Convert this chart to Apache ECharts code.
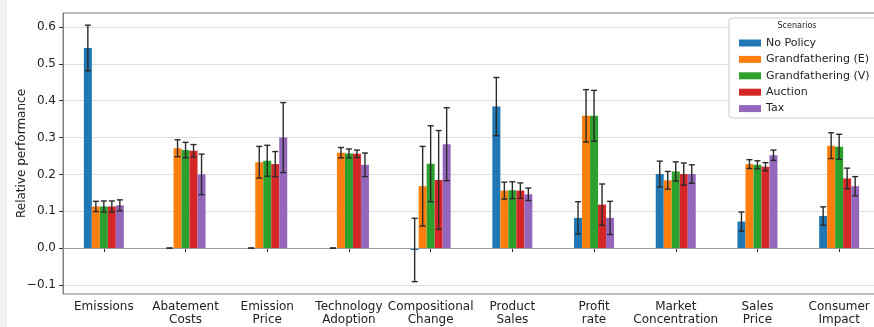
<!DOCTYPE html>
<html>
<head>
<meta charset="utf-8">
<script src="https://cdn.jsdelivr.net/npm/echarts@6/dist/echarts.min.js"></script>
<style>html,body{margin:0;padding:0;background:#fff}#c{width:874px;height:327px}</style>
</head>
<body>
<div id="c"></div>
<script>
const categories = ['Emissions','Abatement\nCosts','Emission\nPrice','Technology\nAdoption','Compositional\nChange','Product\nSales','Profit\nrate','Market\nConcentration','Sales\nPrice','Consumer\nImpact'];
const seriesNames = ['No Policy','Grandfathering (E)','Grandfathering (V)','Auction','Tax'];
const colors = ['#1f77b4','#ff7f0e','#2ca02c','#d62728','#9467bd'];
const yTicks = [-0.1,0,0.1,0.2,0.3,0.4,0.5,0.6];

const noPolicy      = [0.543, 0, 0, 0, -0.005, 0.384, 0.082, 0.201, 0.072, 0.087];
const noPolicyErr   = [0.062, 0, 0, 0, 0.086, 0.079, 0.044, 0.035, 0.026, 0.025];
const gfE           = [0.113, 0.271, 0.233, 0.259, 0.168, 0.156, 0.359, 0.184, 0.228, 0.278];
const gfEErr        = [0.014, 0.023, 0.043, 0.014, 0.108, 0.023, 0.071, 0.024, 0.012, 0.035];
const gfV           = [0.113, 0.266, 0.237, 0.257, 0.229, 0.157, 0.359, 0.208, 0.226, 0.275];
const gfVErr        = [0.015, 0.021, 0.042, 0.012, 0.103, 0.023, 0.069, 0.026, 0.011, 0.034];
const auction       = [0.113, 0.264, 0.228, 0.256, 0.185, 0.156, 0.118, 0.201, 0.221, 0.189];
const auctionErr    = [0.015, 0.017, 0.034, 0.010, 0.134, 0.021, 0.056, 0.030, 0.011, 0.028];
const tax           = [0.116, 0.200, 0.300, 0.226, 0.282, 0.146, 0.082, 0.201, 0.252, 0.168];
const taxErr        = [0.015, 0.055, 0.095, 0.032, 0.099, 0.017, 0.045, 0.025, 0.014, 0.026];

const values = [noPolicy, gfE, gfV, auction, tax];
const errors = [noPolicyErr, gfEErr, gfVErr, auctionErr, taxErr];

const BAR_W = 8;
const fmt = v => (Math.abs(v) < 1e-9 ? '0.0' : v.toFixed(1).replace('-', '\u2212'));

const series = [];
values.forEach((vals, i) => {
  series.push({
    name: seriesNames[i], type: 'bar', data: vals, barWidth: BAR_W, barGap: '0%',
    itemStyle: { color: colors[i] }, z: 2,
    markLine: i === 0 ? { silent: true, symbol: 'none', label: { show: false },
      lineStyle: { color: '#9a9a9a', width: 1, type: 'solid' }, data: [{ yAxis: 0 }] } : undefined
  });
});
values.forEach((vals, i) => {
  const off = (i - 2) * BAR_W;
  series.push({
    name: seriesNames[i] + ' err', type: 'custom', z: 5,
    data: vals.map((v, k) => [k, v - errors[i][k], v + errors[i][k]]),
    encode: { x: 0, y: [1, 2] },
    renderItem: (params, api) => {
      const k = api.value(0);
      const x = api.coord([k, 0])[0] + off;
      const lo = api.coord([k, api.value(1)])[1];
      const hi = api.coord([k, api.value(2)])[1];
      const st = { stroke: '#2a2a2a', lineWidth: 1.4 };
      return { type: 'group', children: [
        { type: 'line', shape: { x1: x, y1: lo, x2: x, y2: hi }, style: st },
        { type: 'line', shape: { x1: x - 3, y1: lo, x2: x + 3, y2: lo }, style: st },
        { type: 'line', shape: { x1: x - 3, y1: hi, x2: x + 3, y2: hi }, style: st }
      ]};
    }
  });
});

const chart = echarts.init(document.getElementById('c'), null, { renderer: 'canvas' });
chart.setOption({
  animation: false,
  textStyle: { fontFamily: 'DejaVu Sans' },
  grid: { left: 63, top: 13, right: -6, bottom: 33, outerBoundsMode: 'none', show: true, borderColor: '#808080', borderWidth: 1, backgroundColor: 'transparent' },
  legend: {
    orient: 'vertical', left: 734, top: 32, itemWidth: 22, itemHeight: 7, itemGap: 4.4,
    icon: 'rect', data: seriesNames, z: 10,
    textStyle: { fontFamily: 'DejaVu Sans', fontSize: 11, color: '#222', lineHeight: 12 }
  },
  graphic: [
    { type: 'rect', left: 0, top: 0, shape: { width: 7, height: 327 }, style: { fill: '#f2f2f2' }, z: 0 },
    { type: 'rect', shape: { x: 729, y: 18, width: 150, height: 100, r: 3 }, style: { fill: '#ffffff', stroke: '#cccccc', lineWidth: 1 }, z: 8 },
    { type: 'text', x: 797, y: 26, style: { text: 'Scenarios', fontFamily: 'DejaVu Sans', fontSize: 8, fill: '#222', align: 'center', verticalAlign: 'middle' }, z: 11 }
  ],
  xAxis: {
    type: 'category', data: categories, boundaryGap: true,
    axisLine: { show: true, lineStyle: { color: '#808080' } },
    axisTick: { show: true, alignWithLabel: true, length: 4, lineStyle: { color: '#333' } },
    axisLabel: { fontFamily: 'DejaVu Sans', fontSize: 12, color: '#222', lineHeight: 13, margin: 6, interval: 0 },
    splitLine: { show: false }
  },
  yAxis: {
    type: 'value', min: -0.1245, max: 0.638,
    name: 'Relative performance', nameLocation: 'middle', nameGap: 35, nameMoveOverlap: false,
    nameTextStyle: { fontFamily: 'DejaVu Sans', fontSize: 12, color: '#222' },
    axisLine: { show: true, lineStyle: { color: '#808080' } },
    axisTick: { show: true, length: 4, lineStyle: { color: '#333' }, customValues: yTicks },
    axisLabel: { fontFamily: 'DejaVu Sans', fontSize: 12, color: '#222', margin: 7, customValues: yTicks, formatter: fmt },
    splitLine: { show: true, lineStyle: { color: '#dedede', width: 1.2 } }
  },
  series: series
});
</script>
</body>
</html>
